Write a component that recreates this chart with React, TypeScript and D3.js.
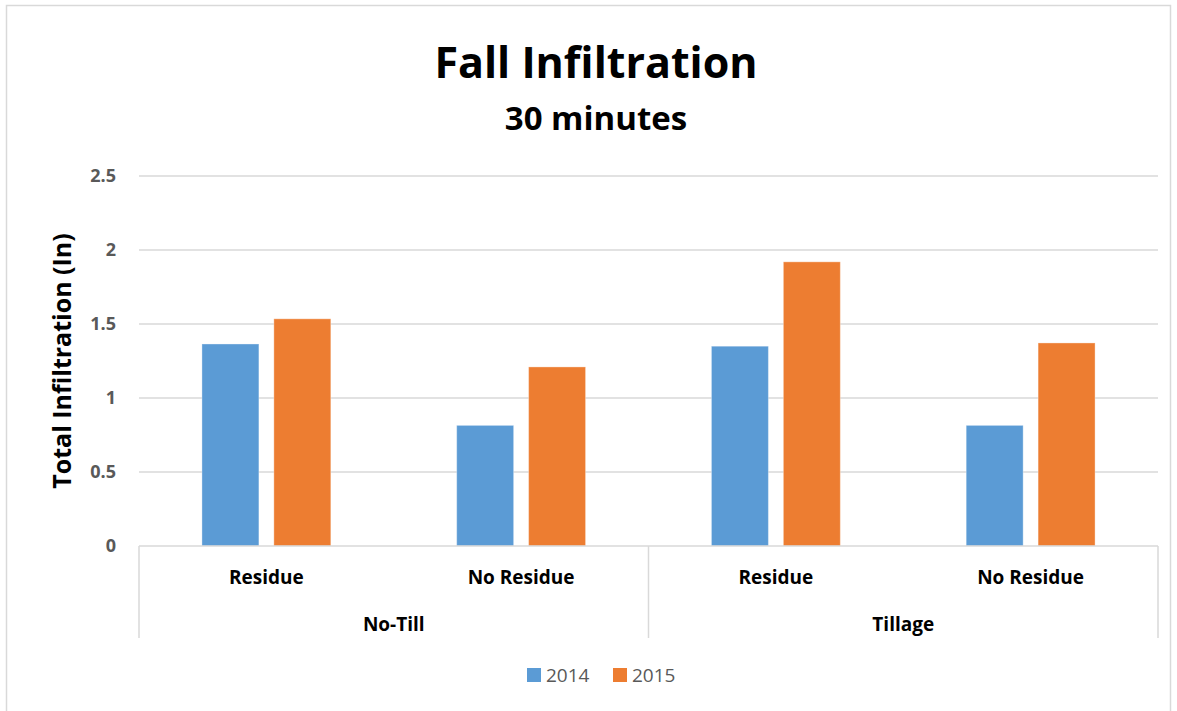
import React, { useEffect, useRef } from 'react'
import * as d3 from 'd3'

const width = 1177
const height = 711

// data
const groups = ['No-Till', 'No-Till', 'Tillage', 'Tillage']
const treatments = ['Residue', 'No Residue', 'Residue', 'No Residue']
const seriesNames = ['2014', '2015']
const values2014 = [1.365, 0.815, 1.35, 0.815]
const values2015 = [1.535, 1.21, 1.92, 1.372]
const yTicks = [0, 0.5, 1, 1.5, 2, 2.5]
const colors = ['#5b9bd5', '#ed7d31']

const font = "'Open Sans', 'Liberation Sans', sans-serif"

export default function App() {
  const svgRef = useRef<SVGSVGElement>(null)

  useEffect(() => {
    const svg = d3.select(svgRef.current)
    svg.selectAll('*').remove()

    const left = 139
    const right = 1158
    const top = 176
    const bottom = 546

    // chart frame
    svg.append('rect')
      .attr('x', 6.5).attr('y', 5.5)
      .attr('width', 1164).attr('height', 730)
      .attr('fill', 'white')
      .attr('stroke', '#d9d9d9')
      .attr('stroke-width', 1.5)

    const y = d3.scaleLinear().domain([0, 2.5]).range([bottom, top])
    const x = d3.scaleBand<number>()
      .domain(d3.range(treatments.length))
      .range([left, right])
      .padding(0)
    const xInner = d3.scaleBand<string>()
      .domain(seriesNames)
      .range([0, x.bandwidth()])
      .paddingInner(0.208)
      .paddingOuter(0.875)

    // gridlines
    svg.append('g').selectAll('line')
      .data(yTicks.filter((d) => d > 0))
      .enter().append('line')
      .attr('x1', left).attr('x2', right)
      .attr('y1', (d) => y(d)).attr('y2', (d) => y(d))
      .attr('stroke', '#d9d9d9')
      .attr('stroke-width', 1.5)

    // y tick labels
    svg.append('g').selectAll('text')
      .data(yTicks)
      .enter().append('text')
      .attr('x', 116)
      .attr('y', (d) => y(d))
      .attr('dy', '0.35em')
      .attr('text-anchor', 'end')
      .attr('font-family', font)
      .attr('font-weight', 'bold')
      .attr('font-size', 18)
      .attr('fill', '#595959')
      .text((d) => d3.format('')(d))

    // bars
    const series = [values2014, values2015]
    series.forEach((vals, si) => {
      svg.append('g').selectAll('rect')
        .data(vals)
        .enter().append('rect')
        .attr('x', (d, i) => (x(i) as number) + (xInner(seriesNames[si]) as number))
        .attr('y', (d) => y(d))
        .attr('width', xInner.bandwidth())
        .attr('height', (d) => bottom - y(d))
        .attr('fill', colors[si])
        .attr('stroke', 'white')
        .attr('stroke-opacity', 0.35)
        .attr('stroke-width', 1)
    })

    // x axis line and group separators
    const axis = svg.append('g')
    axis.append('line')
      .attr('x1', left).attr('x2', right)
      .attr('y1', bottom).attr('y2', bottom)
      .attr('stroke', '#d9d9d9').attr('stroke-width', 1.5)
    const sepX = [left, (x(2) as number), right]
    axis.selectAll('line.sep')
      .data(sepX)
      .enter().append('line')
      .attr('class', 'sep')
      .attr('x1', (d) => d).attr('x2', (d) => d)
      .attr('y1', bottom).attr('y2', 638)
      .attr('stroke', '#d9d9d9').attr('stroke-width', 1.5)

    // category labels
    axis.selectAll('text.cat')
      .data(treatments)
      .enter().append('text')
      .attr('class', 'cat')
      .attr('x', (d, i) => (x(i) as number) + x.bandwidth() / 2)
      .attr('y', 584)
      .attr('text-anchor', 'middle')
      .attr('font-family', font)
      .attr('font-weight', 'bold')
      .attr('font-size', 19)
      .attr('fill', 'black')
      .text((d) => d)

    // group labels
    const groupNames = Array.from(new Set(groups))
    axis.selectAll('text.grp')
      .data(groupNames)
      .enter().append('text')
      .attr('class', 'grp')
      .attr('x', (g) => {
        const idx = groups.map((d, i) => (d === g ? i : -1)).filter((i) => i >= 0)
        return ((x(idx[0]) as number) + (x(idx[idx.length - 1]) as number) + x.bandwidth()) / 2
      })
      .attr('y', 631)
      .attr('text-anchor', 'middle')
      .attr('font-family', font)
      .attr('font-weight', 'bold')
      .attr('font-size', 19)
      .attr('fill', 'black')
      .text((d) => d)

    // titles
    svg.append('text')
      .attr('x', 596).attr('y', 78)
      .attr('text-anchor', 'middle')
      .attr('font-family', font)
      .attr('font-weight', 'bold')
      .attr('font-size', 43)
      .attr('fill', 'black')
      .text('Fall Infiltration')
    svg.append('text')
      .attr('x', 596).attr('y', 130)
      .attr('text-anchor', 'middle')
      .attr('font-family', font)
      .attr('font-weight', 'bold')
      .attr('font-size', 33)
      .attr('fill', 'black')
      .text('30 minutes')

    // y axis title
    svg.append('text')
      .attr('transform', `translate(71, ${(top + bottom) / 2}) rotate(-90)`)
      .attr('text-anchor', 'middle')
      .attr('font-family', font)
      .attr('font-weight', 'bold')
      .attr('font-size', 25)
      .attr('fill', 'black')
      .text('Total Infiltration (In)')

    // legend
    const legend = svg.append('g')
    const legendX = [527, 613]
    seriesNames.forEach((name, i) => {
      legend.append('rect')
        .attr('x', legendX[i]).attr('y', 668)
        .attr('width', 14).attr('height', 14)
        .attr('fill', colors[i])
      legend.append('text')
        .attr('x', legendX[i] + 19).attr('y', 682)
        .attr('font-family', font)
        .attr('font-size', 19)
        .attr('fill', '#595959')
        .text(name)
    })
  }, [])

  return (
    <svg ref={svgRef} width={width} height={height}
      style={{ position: 'absolute', left: 0, top: 0, background: 'white' }} />
  )
}
